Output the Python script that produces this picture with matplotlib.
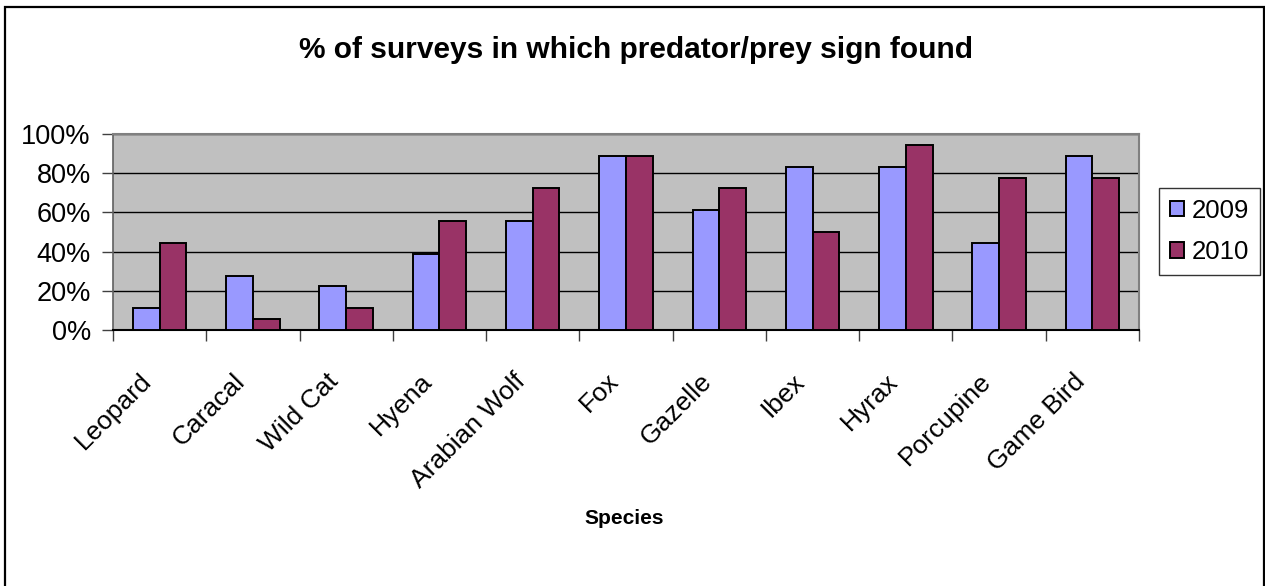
import matplotlib
matplotlib.use("Agg")
import matplotlib.pyplot as plt
import matplotlib.patches as mpatches
import matplotlib.transforms as mtransforms
from matplotlib.ticker import FixedLocator, NullFormatter, PercentFormatter
import numpy as np

plt.rcParams['font.family'] = ['Liberation Sans', 'DejaVu Sans']

categories = ["Leopard", "Caracal", "Wild Cat", "Hyena", "Arabian Wolf", "Fox",
              "Gazelle", "Ibex", "Hyrax", "Porcupine", "Game Bird"]
series_names = ["2009", "2010"]
values_2009 = [11.1, 27.8, 22.2, 38.9, 55.6, 88.9, 61.1, 83.3, 83.3, 44.4, 88.9]
values_2010 = [44.4, 5.6, 11.1, 55.6, 72.2, 88.9, 72.2, 50.0, 94.4, 77.8, 77.8]
y_ticks = [0, 20, 40, 60, 80, 100]
title = "% of surveys in which predator/prey sign found"
xlabel = "Species"

W, H = 1265, 586
fig = plt.figure(figsize=(W / 100, H / 100), dpi=100)
fig.patch.set_facecolor("white")

left, right, top, bottom = 113, 1139, 134, 330
ax = fig.add_axes([left / W, 1 - bottom / H, (right - left) / W, (bottom - top) / H])
ax.set_facecolor("#C0C0C0")

x = np.arange(len(categories))
bw = 0.287
ax.bar(x - bw / 2, values_2009, width=bw, color="#9999FF", edgecolor="black",
       linewidth=1.4, label=series_names[0], zorder=3)
ax.bar(x + bw / 2, values_2010, width=bw, color="#993366", edgecolor="black",
       linewidth=1.4, label=series_names[1], zorder=3)

ax.set_xlim(-0.5, len(categories) - 0.5)
ax.set_ylim(0, 100)
ax.yaxis.set_major_locator(FixedLocator(y_ticks))
ax.yaxis.set_major_formatter(PercentFormatter(decimals=0))
ax.grid(axis="y", color="black", linewidth=1.0, zorder=1)
ax.set_axisbelow(True)

# category boundary ticks
ax.xaxis.set_major_locator(FixedLocator(np.arange(len(categories) + 1) - 0.5))
ax.xaxis.set_major_formatter(NullFormatter())
ax.set_xticks(x, categories, minor=True)
ax.tick_params(axis="x", which="major", direction="out", length=8, width=1, color="#404040")
ax.tick_params(axis="x", which="minor", length=0, pad=28, labelsize=19)
offset = mtransforms.ScaledTranslation(-20 / 100, 0, fig.dpi_scale_trans)
for lab in ax.get_xticklabels(minor=True):
    lab.set_rotation(45)
    lab.set_ha("right")
    lab.set_va("top")
    lab.set_rotation_mode("anchor")
    lab.set_transform(lab.get_transform() + offset)
ax.tick_params(axis="y", direction="out", length=8, width=1, color="#404040",
               labelsize=19.5, pad=8)

for s in ["top", "right"]:
    ax.spines[s].set_color("#808080")
    ax.spines[s].set_linewidth(1.5)
ax.spines["left"].set_color("#606060")
ax.spines["bottom"].set_color("black")
ax.spines["left"].set_linewidth(1.2)
ax.spines["bottom"].set_linewidth(1.5)

fig.text(636 / W, 1 - 50 / H, title, ha="center", va="center",
         fontsize=21.5, fontweight="bold")
fig.text(624 / W, 1 - 519 / H, xlabel, ha="center", va="center",
         fontsize=15, fontweight="bold")

leg = ax.legend(loc="upper left", bbox_to_anchor=(1159 / W, 1 - 188 / H),
                bbox_transform=fig.transFigure, frameon=True, fancybox=False,
                fontsize=18.5, handlelength=0.55, handleheight=0.55, handletextpad=0.3,
                borderpad=0.42, labelspacing=0.68, borderaxespad=0)
leg.get_frame().set_edgecolor("black")
leg.get_frame().set_linewidth(1.0)

border = mpatches.Rectangle((5 / W, -0.02), (1264 - 5) / W, 1 - 7 / H + 0.02,
                            transform=fig.transFigure, fill=False,
                            edgecolor="black", linewidth=1.6)
fig.patches.append(border)

fig.savefig("out.png", dpi=100)
